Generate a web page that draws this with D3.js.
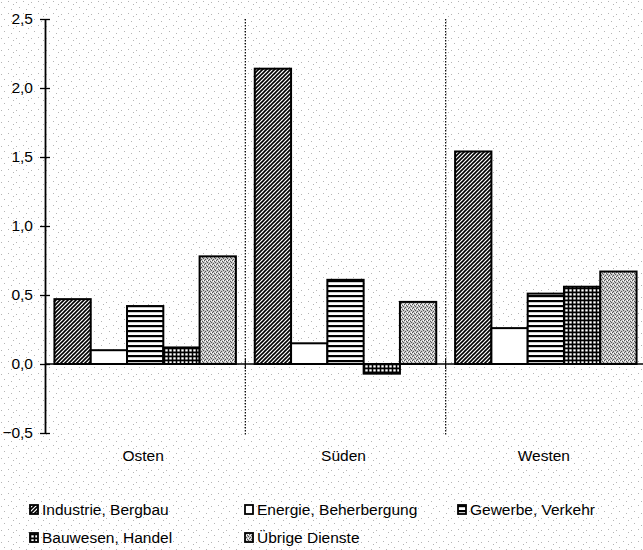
<!DOCTYPE html>
<html>
<head>
<meta charset="utf-8">
<script src="https://cdn.jsdelivr.net/npm/d3@7"></script>
<style>
  body { margin: 0; background: #fff; }
  svg { display: block; font-family: "Liberation Sans", Arial, sans-serif; }
</style>
</head>
<body>
<div class="chart"></div>
<script>
const regions = ['Osten', 'Süden', 'Westen'];

const sectors = ['Industrie, Bergbau', 'Energie, Beherbergung', 'Gewerbe, Verkehr', 'Bauwesen, Handel', 'Übrige Dienste'];

// one array per region, in the order of sectors
const osten = [0.47, 0.10, 0.42, 0.12, 0.78];
const sueden = [2.14, 0.15, 0.61, -0.07, 0.45];
const westen = [1.54, 0.26, 0.51, 0.56, 0.67];

const yTicks = [-0.5, 0, 0.5, 1.0, 1.5, 2.0, 2.5];

const values = [osten, sueden, westen];

const width = 643;
const height = 550;

const fills = ['url(#hatch)', '#fff', 'url(#hstripe)', 'url(#grid)', 'url(#stipple)'];

const svg = d3.select('.chart').append('svg')
  .attr('width', width)
  .attr('height', height);

const defs = svg.append('defs');

// scan noise in the background
let noise = defs.append('pattern')
  .attr('id', 'noise')
  .attr('patternUnits', 'userSpaceOnUse')
  .attr('width', 15)
  .attr('height', 12);
noise.append('rect').attr('width', 15).attr('height', 12).attr('fill', '#fff');
[[1, 2], [8, 1], [4, 7], [11, 9], [13, 4]].forEach(p => {
  noise.append('rect').attr('x', p[0]).attr('y', p[1]).attr('width', 1).attr('height', 1).attr('fill', '#b5b5b5');
});

let hatch = defs.append('pattern')
  .attr('id', 'hatch')
  .attr('patternUnits', 'userSpaceOnUse')
  .attr('width', 4)
  .attr('height', 4);
hatch.append('rect').attr('width', 4).attr('height', 4).attr('fill', '#fff');
hatch.append('path')
  .attr('d', 'M-1,1 l2,-2 M0,4 l4,-4 M3,5 l2,-2')
  .attr('stroke', '#000')
  .attr('stroke-width', 1.6);

let hstripe = defs.append('pattern')
  .attr('id', 'hstripe')
  .attr('patternUnits', 'userSpaceOnUse')
  .attr('width', 5)
  .attr('height', 5);
hstripe.append('rect').attr('width', 5).attr('height', 5).attr('fill', '#fff');
hstripe.append('rect').attr('y', 0).attr('width', 5).attr('height', 2.2).attr('fill', '#000');

let grid = defs.append('pattern')
  .attr('id', 'grid')
  .attr('patternUnits', 'userSpaceOnUse')
  .attr('width', 4)
  .attr('height', 4);
grid.append('rect').attr('width', 4).attr('height', 4).attr('fill', '#000');
grid.append('rect').attr('x', 1.3).attr('y', 1.3).attr('width', 2.4).attr('height', 2.2).attr('fill', '#fff');

let stipple = defs.append('pattern')
  .attr('id', 'stipple')
  .attr('patternUnits', 'userSpaceOnUse')
  .attr('width', 4)
  .attr('height', 4);
stipple.append('rect').attr('width', 4).attr('height', 4).attr('fill', '#c8c8c8');
[[0, 0], [2, 1], [1, 3], [3, 2]].forEach(p => {
  stipple.append('rect').attr('x', p[0]).attr('y', p[1]).attr('width', 1).attr('height', 1).attr('fill', '#555');
});
[[1, 1], [3, 0]].forEach(p => {
  stipple.append('rect').attr('x', p[0]).attr('y', p[1]).attr('width', 1).attr('height', 1).attr('fill', '#fff');
});

svg.append('rect')
  .attr('width', width)
  .attr('height', height)
  .attr('fill', 'url(#noise)');

let xScale = d3.scaleBand()
  .domain(regions)
  .range([45, 646]);

let xSector = d3.scaleBand()
  .domain(sectors)
  .range([0, xScale.bandwidth()])
  .paddingOuter(0.26);

let yScale = d3.scaleLinear()
  .domain([-0.5, 2.5])
  .range([433, 19]);

// dotted separators between the regions
svg.append('g')
  .selectAll('line')
  .data(regions.slice(1))
  .join('line')
  .attr('x1', d => xScale(d))
  .attr('x2', d => xScale(d))
  .attr('y1', yScale(2.5))
  .attr('y2', yScale(-0.5) + 2)
  .attr('stroke', '#000')
  .attr('stroke-width', 1.2)
  .attr('stroke-dasharray', '1.5,1.5');

// bars
regions.forEach((r, i) => {
  svg.append('g')
    .selectAll('rect')
    .data(values[i])
    .join('rect')
    .attr('x', (d, j) => xScale(r) + xSector(sectors[j]))
    .attr('y', d => yScale(Math.max(d, 0)))
    .attr('width', xSector.bandwidth())
    .attr('height', d => Math.abs(yScale(d) - yScale(0)))
    .attr('fill', (d, j) => fills[j])
    .attr('stroke', '#000')
    .attr('stroke-width', 2);
});

// zero line with ticks at the region borders
const xAxis = svg.append('g')
  .attr('transform', 'translate(0,' + yScale(0) + ')')
  .call(d3.axisBottom(xScale).tickSize(0).tickFormat(''));

xAxis.select('.domain')
  .attr('d', 'M45,0H' + width)
  .attr('stroke-width', 1.5);

xAxis.selectAll('.tick').remove();

xAxis.selectAll('.border')
  .data(regions.slice(1))
  .join('line')
  .attr('class', 'border')
  .attr('x1', d => xScale(d))
  .attr('x2', d => xScale(d))
  .attr('y1', -5)
  .attr('y2', 5)
  .attr('stroke', '#000');

// region labels
svg.append('g')
  .selectAll('text')
  .data(regions)
  .join('text')
  .attr('x', d => xScale(d) + xScale.bandwidth() / 2 - 2)
  .attr('y', 461)
  .attr('text-anchor', 'middle')
  .attr('font-size', 15.5)
  .text(d => d);

// y axis
const yAxis = svg.append('g')
  .attr('transform', 'translate(45,0)')
  .call(d3.axisLeft(yScale)
        .tickValues(yTicks)
        .tickSizeInner(5)
        .tickSizeOuter(0)
        .tickPadding(7)
        .tickFormat(d => d3.format('.1f')(d).replace('.', ','))
  );

yAxis.select('.domain').attr('stroke-width', 1.8);

yAxis.selectAll('.tick line')
  .attr('x1', 5)
  .attr('stroke-width', 1.3);

yAxis.selectAll('.tick text')
  .attr('font-size', 15.5)
  .attr('font-family', '"Liberation Sans", Arial, sans-serif')
  .attr('fill', '#000');

// legend
const legendX = [30, 245, 458];
const legendY = [510, 538];

let legend = svg.append('g')
  .selectAll('g')
  .data(sectors)
  .join('g')
  .attr('transform', (d, i) => 'translate(' + legendX[i % 3] + ',' + legendY[Math.floor(i / 3)] + ')');

legend.append('rect')
  .attr('x', 0)
  .attr('y', -5)
  .attr('width', 8)
  .attr('height', 9)
  .attr('fill', (d, i) => fills[i])
  .attr('stroke', '#000')
  .attr('stroke-width', 1.8);

legend.append('text')
  .attr('x', 12)
  .attr('y', 5)
  .attr('font-size', 15.5)
  .text(d => d);
</script>
</body>
</html>
